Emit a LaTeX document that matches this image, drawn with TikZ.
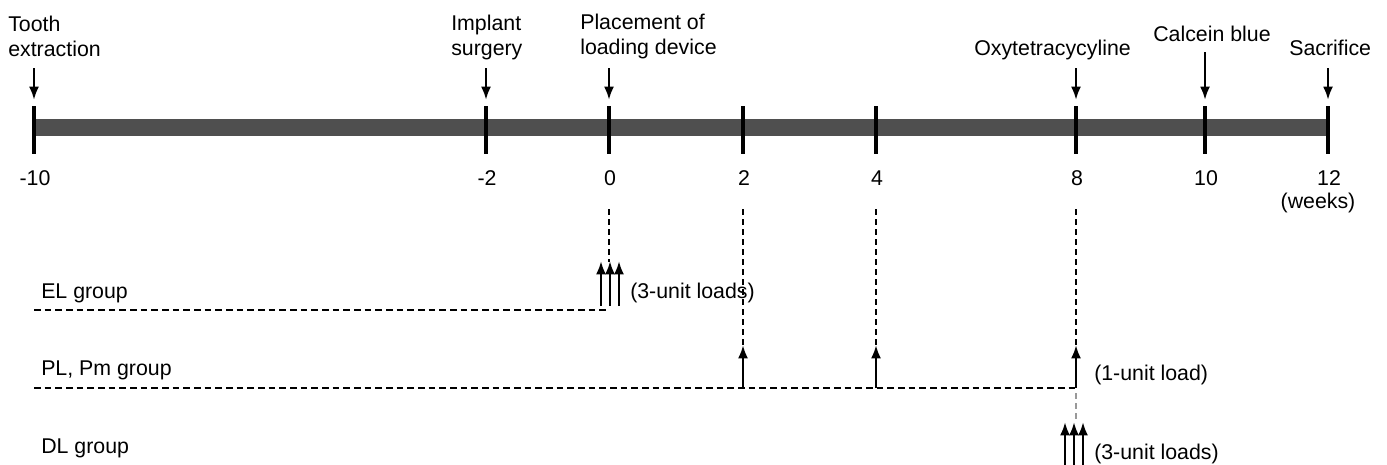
\documentclass[tikz,border=0pt]{standalone}
\usepackage{fontspec}
\setmainfont{Liberation Sans}
\usetikzlibrary{arrows.meta,positioning}

\begin{document}
\begin{tikzpicture}[
        x=0.75pt, y=-0.75pt,
        font=\fontsize{16}{18.75}\selectfont,
        >={Latex[length=10pt,width=7.5pt]},
        event/.style={inner sep=0pt, anchor=base west, align=left},
        week/.style={inner sep=0pt, anchor=base},
        grouplabel/.style={inner sep=0pt, anchor=base west},
        tickline/.style={line width=2.6pt},
        pointer/.style={->, line width=1.9pt},
        guide/.style={line width=2pt, dash pattern=on 4.5pt off 3pt},
        loadline/.style={line width=2pt, dash pattern=on 5pt off 3pt},
    ]
    \useasboundingbox (0,0) rectangle (1387,464);

    % timeline bar
    \fill[black!69] (34,119) rectangle (1328,136);

    % ticks and weeks
    \foreach \x/\n/\w in {34/m10/-10, 486/m2/-2, 609/w0/0, 743/w2/2, 876/w4/4,
                          1076/w8/8, 1205/w10/10, 1328/w12/12} {
        \coordinate (tk\n) at (\x,106);
        \coordinate (tb\n) at (\x,154);
        \draw[tickline] (tk\n) -- (tb\n);
        \node[week] (num\n) at (\x+1,185) {\w};
    }
    \node[week] (weeks) at (1318,208) {(weeks)};

    % events (base = last line)
    \node[event] (tooth) at (8,56) {Tooth\\extraction};
    \node[event] (implant) at (451,55) {Implant\\surgery};
    \node[event] (placement) at (580,54) {Placement of\\loading device};
    \node[event] (oxy) at (974,55) {Oxytetracycyline};
    \node[event] (calcein) at (1153,41) {Calcein blue};
    \node[event] (sacrifice) at (1289,55) {Sacrifice};

    \foreach \x/\n/\t in {34/m10/68, 486/m2/68, 609/w0/68, 1076/w8/68,
                          1205/w10/52, 1328/w12/68} {
        \coordinate (ev\n) at (\x,\t);
        \draw[pointer] (ev\n) -- ([yshift=4.5pt]tk\n);
    }

    % guides from the time line
    \coordinate (g0) at (609,209);
    \coordinate (g2) at (743,209);
    \coordinate (g4) at (876,209);
    \coordinate (g8) at (1076,209);
    \coordinate (el0) at (609,262);
    \coordinate (pl2) at (743,345);
    \coordinate (pl4) at (876,345);
    \coordinate (pl8) at (1076,345);
    \draw[guide] (g0) -- (el0);
    \draw[guide] (g2) -- (pl2);
    \draw[guide] (g4) -- (pl4);
    \draw[guide] (g8) -- (pl8);

    % EL group
    \node[grouplabel] (el) at (41,298) {EL group};
    \coordinate (elstart) at (34,310);
    \coordinate (elend) at (607,310);
    \draw[loadline] (elstart) -- (elend);
    \foreach \dx in {-8,1,10}
        \draw[pointer] ([xshift=\dx*0.75pt]el0) ++(0,44) -- ++(0,-45);
    \node[grouplabel] (elload) at (630,298) {(3-unit loads)};

    % PL, Pm group
    \node[grouplabel] (pl) at (41,375) {PL, Pm group};
    \coordinate (plstart) at (34,388);
    \coordinate (plend) at (1076,388);
    \draw[loadline] (plstart) -- (plend);
    \foreach \n in {2,4,8}
        \draw[pointer] (pl\n |- plstart) -- (pl\n);
    \node[grouplabel] (plload) at (1094,380) {(1-unit load)};

    % DL group
    \node[grouplabel] (dl) at (41,453) {DL group};
    \coordinate (dl8) at (1076,422);
    \draw[guide, black!40] (plend) ++(0,5) -- ++(0,26);
    \foreach \dx in {-11,-2,7}
        \draw[pointer] ([xshift=\dx*0.75pt]dl8) ++(0,46) -- ++(0,-46);
    \node[grouplabel] (dlload) at (1094,459) {(3-unit loads)};
\end{tikzpicture}
\end{document}
